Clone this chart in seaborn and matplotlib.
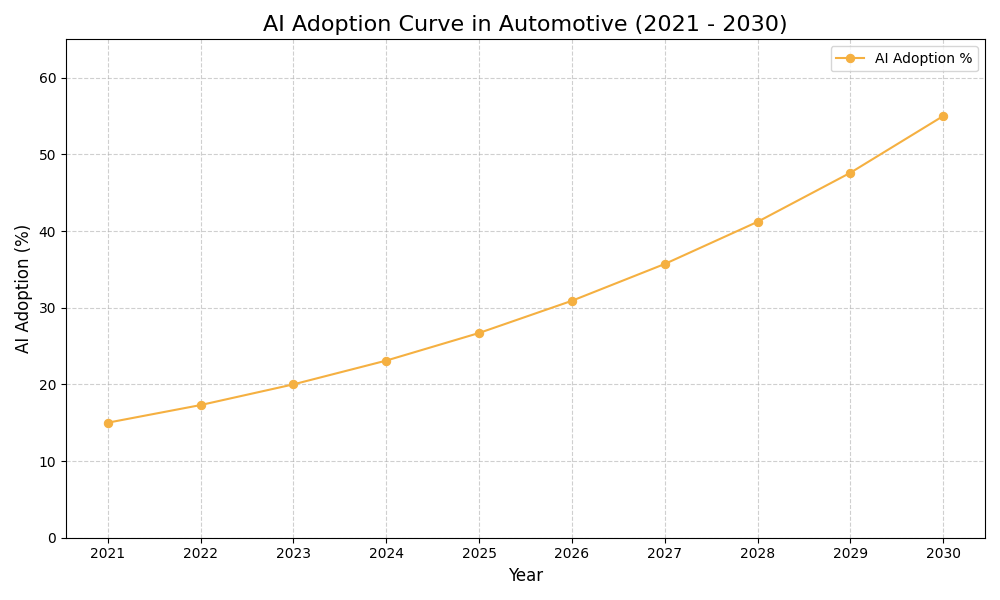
import pandas as pd
import matplotlib
matplotlib.use('Agg')
import matplotlib.pyplot as plt
import seaborn as sns

# values
years = [2021, 2022, 2023, 2024, 2025, 2026, 2027, 2028, 2029, 2030]
adoption = [15.0, 17.3, 20.0, 23.1, 26.7, 30.9, 35.7, 41.2, 47.6, 55.0]

df = pd.DataFrame({'Year': years, 'Adoption': adoption})

fig, ax = plt.subplots(figsize=(10, 6), dpi=100)
sns.lineplot(data=df, x='Year', y='Adoption', marker='o', color='#f5b041',
             markeredgecolor='#f5b041', markersize=6, label='AI Adoption %', ax=ax)

ax.set_title('AI Adoption Curve in Automotive (2021 - 2030)', fontsize=16)
ax.set_xlabel('Year', fontsize=12)
ax.set_ylabel('AI Adoption (%)', fontsize=12)
ax.set_xticks(years)
ax.set_ylim(0, 65)
ax.grid(True, linestyle='--', alpha=0.6)
ax.legend(loc='upper right')

plt.tight_layout()
plt.savefig('out.png')
